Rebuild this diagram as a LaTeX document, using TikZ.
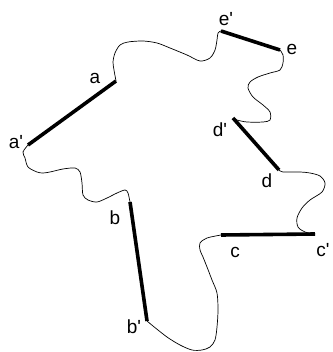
\documentclass[tikz,border=0pt]{standalone}
\usepackage{fontspec}
\setmainfont{Liberation Sans}
\usetikzlibrary{positioning}

\begin{document}
\begin{tikzpicture}[x=1pt, y=-1pt,
            lbl/.style={inner sep=0pt, font=\fontsize{19}{19}\selectfont},
            bar/.style={draw=black, line width=3.6pt},
            edge/.style={draw=black, line width=0.7pt}]
            \useasboundingbox (0,0) rectangle (332,352);
            \coordinate (a)  at (116,81);
            \coordinate (ap) at (28,145);
            \coordinate (ep) at (221,31);
            \coordinate (e)  at (280,50);
            \coordinate (dp) at (233,118);
            \coordinate (d)  at (279,170);
            \coordinate (cp) at (315,234);
            \coordinate (c)  at (221,235);
            \coordinate (b)  at (130,202);
            \coordinate (bp) at (147,321);
            \draw[bar] (a)--(ap) (ep)--(e) (dp)--(d) (cp)--(c) (b)--(bp);
            \draw[edge] plot[smooth, tension=0.5] coordinates {(a) (114,70) (113,62) (115,53) (120,45) (128,42) (143,41) (157,43) (170,48) (187,55) (200,61) (210,58) (215,50) (217,40) (218,33) (ep)};
            \draw[edge] plot[smooth, tension=0.5] coordinates {(e) (283,55) (283,63) (280,70) (270,73) (258,77) (250,82) (248,88) (253,97) (263,105) (270,112) (270,120) (263,122) (247,122) (237,120) (dp)};
            \draw[edge] plot[smooth, tension=0.5] coordinates {(d) (283,172) (300,172) (310,173) (320,176) (325,183) (322,192) (310,200) (302,208) (297,218) (298,227) (305,232) (cp)};
            \draw[edge] plot[smooth, tension=0.5] coordinates {(c) (207,238) (200,243) (200,250) (203,257) (207,267) (212,280) (217,293) (218,310) (217,327) (215,340) (210,347) (202,350) (192,350) (180,345) (167,337) (153,326) (bp)};
            \draw[edge] plot[smooth, tension=0.5] coordinates {(b) (128,193) (125,190) (117,193) (107,198) (97,202) (88,200) (83,195) (82,183) (80,172) (75,168) (63,169) (50,172) (43,173) (37,172) (28,167) (25,158) (23,152) (ap)};
            \node[lbl] (la)  at (95,78)   {a};
            \node[lbl] (lap) at (16,142)  {a\textquotesingle};
            \node[lbl] (lep) at (226,19)  {e\textquotesingle};
            \node[lbl] (le)  at (292,49)  {e};
            \node[lbl] (ldp) at (220,130) {d\textquotesingle};
            \node[lbl] (ld)  at (267,181) {d};
            \node[lbl] (lc)  at (235,252) {c};
            \node[lbl] (lcp) at (323,250) {c\textquotesingle};
            \node[lbl] (lb)  at (115,218) {b};
            \node[lbl] (lbp) at (134,327) {b\textquotesingle};
        \end{tikzpicture}
\end{document}
